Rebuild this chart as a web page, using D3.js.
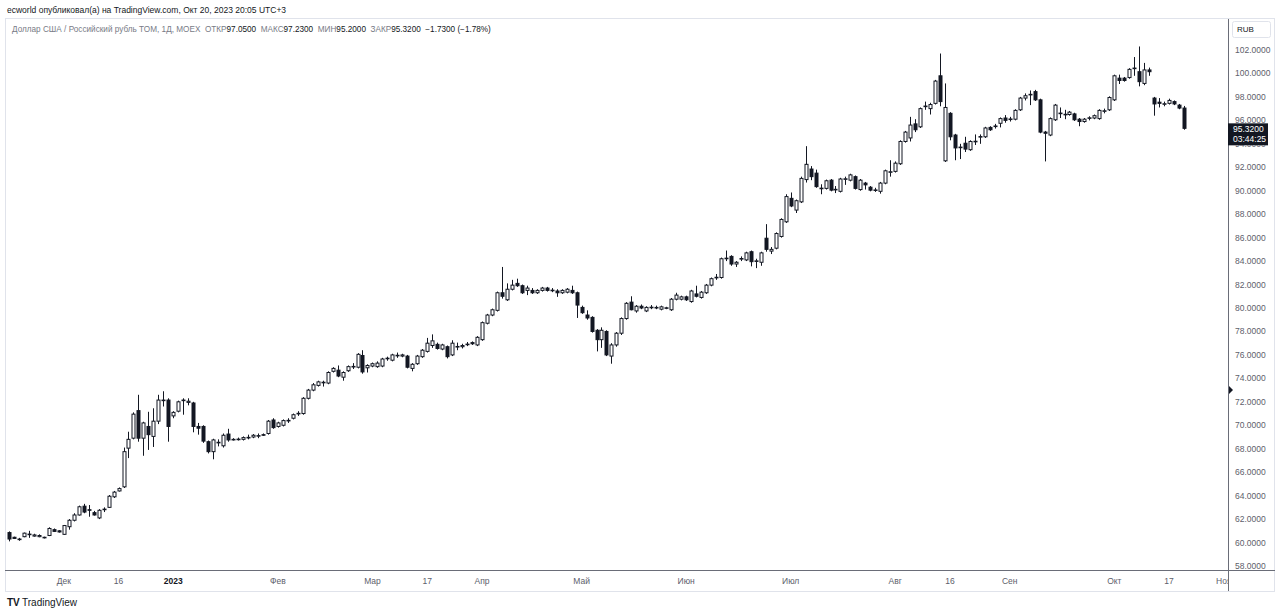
<!DOCTYPE html>
<html><head><meta charset="utf-8">
<script src="https://cdn.jsdelivr.net/npm/d3@7"></script>
<style>
body{margin:0;background:#fff;}
svg{display:block;font-family:"Liberation Sans",Arial,sans-serif;}
</style>
</head><body>
<svg id="c" width="1280" height="615"></svg>
<script>
// ---- DATA (USD/RUB TOM, 1D, MOEX) ----
const openP=[60.85,60.45,60.3,60.5,60.7,60.55,60.5,60.45,60.6,61.1,
61.0,60.7,61.35,61.9,62.35,63.1,62.8,62.55,62.1,62.8,
63.0,63.9,64.4,64.75,68.05,68.9,71.25,68.9,69.9,69.05,
70.35,72.15,72.15,70.8,71.2,72.1,71.95,71.9,69.9,69.9,
68.6,67.75,68.5,68.25,69.25,68.8,68.8,68.8,68.95,69.0,
69.1,69.2,69.3,70.45,69.9,70.0,70.4,70.6,71.0,71.0,
72.3,73.0,73.4,73.65,73.6,74.6,74.7,74.1,74.65,75.0,
74.95,75.95,74.9,75.05,75.0,75.05,75.7,75.55,75.95,75.9,
75.9,74.85,75.25,75.85,76.3,76.8,76.9,76.5,76.7,76.0,
76.7,76.7,76.9,77.05,76.85,77.3,78.7,79.4,79.8,81.3,
80.7,81.6,82.1,81.9,81.5,81.5,81.3,81.5,81.7,81.5,
81.45,81.3,81.35,81.5,81.3,80.05,79.4,79.2,78.1,77.3,
78.0,75.9,76.85,77.85,79.1,80.5,79.75,80.15,79.75,80.05,
80.05,79.9,80.0,79.85,80.75,80.75,80.95,80.55,81.2,80.9,
81.3,81.95,82.6,82.6,84.2,84.4,83.75,84.2,84.1,84.8,
84.0,83.9,85.95,84.85,85.1,86.1,87.35,89.35,88.35,89.05,
90.95,91.85,91.5,90.2,90.2,90.9,90.1,89.95,91.0,90.9,
91.2,90.1,90.65,90.3,90.05,89.95,90.65,91.6,91.65,92.3,
94.2,94.5,95.7,95.45,97.2,97.0,97.45,99.8,92.55,96.6,
94.75,93.7,94.05,93.5,94.2,94.6,94.6,95.4,95.5,95.75,
96.2,96.1,96.1,96.9,97.9,98.2,98.45,97.75,95.0,94.75,
96.05,96.6,96.5,96.5,96.55,96.1,95.9,96.2,96.2,96.15,
96.8,96.9,97.75,99.6,99.6,99.65,100.44,100.15,99.15,100.3,
97.9,97.55,97.4,97.45,97.6,97.3,97.05];
const highP=[60.95,60.5,60.4,60.85,61.0,60.75,60.7,60.5,61.3,61.2,
61.05,61.5,62.0,62.5,63.15,63.3,63.2,62.7,62.85,63.0,
64.05,64.4,64.7,68.1,69.45,71.1,72.6,70.3,71.15,71.45,
72.6,72.9,72.3,71.2,72.1,72.3,72.3,72.0,70.2,70.0,
68.7,68.85,68.8,69.3,69.7,68.9,68.95,69.05,69.2,69.25,
69.3,69.3,70.45,70.6,70.3,70.5,70.6,71.0,71.2,72.4,
73.1,73.6,73.8,73.8,74.6,74.95,75.1,74.6,75.1,75.3,
76.15,76.4,75.2,75.35,75.45,75.75,75.85,76.1,76.2,76.1,
76.0,75.3,76.0,76.5,77.45,77.75,77.05,76.95,76.8,77.25,
77.05,76.95,77.1,77.15,77.6,78.85,79.5,79.95,81.4,83.5,
82.1,82.4,82.5,82.0,81.9,81.7,81.6,81.8,81.8,81.7,
81.6,81.6,81.7,81.9,81.4,80.2,79.8,79.3,78.2,78.35,
78.1,77.0,77.95,79.2,80.5,81.0,80.25,80.3,80.15,80.25,
80.2,80.2,80.1,80.85,81.3,81.05,81.05,81.55,81.9,81.45,
82.05,82.6,82.9,84.3,84.9,84.5,84.0,84.4,84.8,84.9,
84.2,84.8,87.15,85.2,86.45,87.65,89.7,89.85,89.25,91.2,
93.8,92.1,91.8,90.55,90.95,91.0,90.4,91.1,91.2,91.45,
91.3,91.0,90.75,90.4,90.25,90.75,91.8,92.6,92.5,94.3,
95.1,96.3,96.1,97.1,97.6,97.5,99.45,101.7,99.15,96.7,
94.85,94.0,94.6,94.3,94.8,94.8,95.45,95.5,95.7,96.25,
96.45,96.3,96.95,98.0,98.3,98.55,98.6,97.85,95.1,96.25,
97.4,97.1,96.9,96.8,96.65,96.2,96.2,96.35,96.5,96.95,
97.0,98.05,99.9,99.9,99.7,100.45,101.4,102.3,100.9,100.5,
98.0,97.9,97.6,97.85,97.7,97.4,97.23];
const lowP=[60.1,60.3,60.15,60.45,60.4,60.5,60.45,60.35,60.55,60.9,
60.85,60.65,61.1,61.8,62.3,62.5,62.2,62.3,62.0,62.6,
62.95,63.8,64.35,64.65,67.2,68.8,68.6,67.4,67.9,68.15,
70.1,71.6,68.6,70.6,71.1,70.9,71.7,69.4,69.2,68.5,
67.6,67.1,68.2,68.1,68.6,68.7,68.7,68.7,68.8,68.9,
68.9,69.1,69.2,69.7,69.8,69.9,70.2,70.5,70.8,70.9,
72.2,72.9,73.3,73.3,73.5,74.5,74.1,73.8,74.55,74.8,
74.85,74.4,74.5,74.95,74.9,74.95,75.5,75.45,75.75,75.8,
74.85,74.6,75.15,75.75,76.2,76.6,76.45,76.4,75.7,75.9,
76.4,76.55,76.75,76.85,76.75,77.2,78.6,79.3,79.7,80.8,
80.6,81.5,81.8,81.2,81.1,81.2,81.2,81.4,81.4,81.35,
80.95,81.2,81.25,81.2,79.15,79.5,79.0,77.9,76.3,76.6,
75.9,75.25,76.7,77.7,79.0,79.8,79.6,79.9,79.65,79.9,
79.9,79.8,79.9,79.75,80.65,80.65,80.6,80.45,80.9,80.8,
81.2,81.85,82.4,82.5,84.0,83.6,83.5,84.0,84.0,83.55,
83.4,83.6,84.8,84.6,85.0,86.0,87.25,88.6,88.1,88.95,
90.7,90.9,90.25,89.7,90.1,89.95,89.8,89.85,90.5,90.8,
90.1,90.0,90.1,89.95,89.9,89.75,90.55,91.2,91.55,92.2,
94.1,94.2,95.0,95.35,96.9,96.5,97.35,97.2,92.45,94.3,
92.6,92.7,93.3,93.4,93.9,94.0,94.5,95.1,95.3,95.4,
95.8,95.9,96.0,96.8,97.7,97.3,97.65,94.9,92.5,94.65,
95.95,96.2,96.1,96.4,95.95,95.5,95.8,96.0,96.1,96.05,
96.6,96.8,97.65,99.1,99.3,99.55,99.8,98.9,99.0,99.8,
96.4,97.1,97.2,97.35,97.3,96.95,95.2];
const closeP=[60.3,60.35,60.25,60.8,60.72,60.65,60.6,60.4,61.2,60.95,
60.9,61.45,61.9,62.35,63.05,62.6,62.75,62.35,62.75,62.85,
63.95,64.3,64.6,67.75,68.8,70.95,68.9,70.2,69.2,70.35,
72.15,72.1,69.9,71.1,72.0,72.15,72.05,69.9,69.75,68.65,
67.75,68.75,68.55,69.15,68.75,68.78,68.82,68.95,68.97,69.15,
69.12,69.18,70.35,69.8,70.2,70.4,70.42,70.9,71.02,72.3,
73.0,73.45,73.7,73.67,74.5,74.85,74.2,74.5,75.0,75.02,
76.05,74.55,75.1,75.25,75.3,75.65,75.72,76.0,75.97,76.0,
74.95,75.2,75.9,76.4,77.0,77.2,76.55,76.85,75.85,77.0,
76.72,76.8,76.92,76.95,77.5,78.75,79.4,79.85,81.3,81.0,
81.6,81.95,81.9,81.3,81.7,81.3,81.5,81.7,81.5,81.52,
81.3,81.5,81.6,81.3,80.25,79.6,79.15,78.0,77.3,78.1,
76.0,76.85,77.85,79.1,80.4,79.85,80.15,80.0,80.05,80.07,
80.03,80.1,80.02,80.75,81.1,80.95,80.7,81.45,81.0,81.35,
81.95,82.5,82.62,84.2,84.25,83.75,83.9,84.22,84.7,83.95,
84.02,84.7,85.0,85.0,86.35,87.55,89.5,88.7,89.15,91.05,
92.25,91.2,90.35,90.22,90.85,90.05,90.12,91.0,91.02,91.35,
90.2,90.9,90.5,90.05,90.07,90.65,91.7,91.62,92.35,94.2,
95.0,95.6,95.2,97.0,97.22,97.35,99.35,97.6,97.1,94.6,
93.65,93.72,93.55,94.2,94.22,94.62,95.35,95.2,95.52,96.15,
96.0,96.12,96.85,97.9,98.1,98.22,97.75,95.0,94.9,96.15,
97.3,96.62,96.52,96.7,96.05,95.9,96.1,96.22,96.4,96.85,
96.82,97.95,99.8,99.4,99.4,100.35,100.46,99.3,100.3,100.15,
97.4,97.45,97.42,97.7,97.4,97.05,95.32];

const firstDay="2022-11-16";
const lastAxisDay="2023-11-01";
const holidays=["2023-01-02","2023-02-23","2023-03-08","2023-05-01","2023-05-09","2023-06-12"];
const timeTickDates=["2022-12-01","2022-12-16","2023-01-03","2023-02-01","2023-03-01","2023-03-17","2023-04-03","2023-05-02","2023-06-01","2023-07-03","2023-08-01","2023-08-16","2023-09-01","2023-10-02","2023-10-17","2023-11-01"];
const timeTickLabels=["Дек","16","2023","Фев","Мар","17","Апр","Май","Июн","Июл","Авг","16","Сен","Окт","17","Ноя"];
const timeTickBold=["2023"];
const priceTicks=[58,60,62,64,66,68,70,72,74,76,78,80,82,84,86,88,90,92,94,96,98,100,102];
const lastPrice=95.32, countdown="03:44:25", markerPrice=73.0;
const headerLine="ecworld опубликовал(а) на TradingView.com, Окт 20, 2023 20:05 UTC+3";
const legendParts=[["Доллар США / Российский рубль TOM, 1Д, MOEX  ",0],["ОТКР",0],["97.0500",1],["  МАКС",0],["97.2300",1],["  МИН",0],["95.2000",1],["  ЗАКР",0],["95.3200",1],["  −1.7300 (−1.78%)",1]];

// ---- trading calendar ----
const fmt=d3.utcFormat("%Y-%m-%d");
const days=[];
for(let d=new Date(firstDay+"T00:00:00Z"); fmt(d)<=lastAxisDay; d=new Date(d.getTime()+864e5)){
  const wd=d.getUTCDay(); const s=fmt(d);
  if(wd!==0 && wd!==6 && !holidays.includes(s)) days.push(s);
}

// ---- layout ----
const pane={l:5,t:19,r:1229,b:571};
const svg=d3.select("#c");
const ink="#131722", grey="#5d606b";

const x=d3.scaleLinear().domain([0,closeP.length-1]).range([9,1184]);
const y=d3.scaleLinear().domain([58,102]).range([566,50]);

// frame
svg.append("rect").attr("x",5.5).attr("y",18.5).attr("width",1269).attr("height",573)
  .attr("fill","#fff").attr("stroke","#e0e3eb");

// header
svg.append("text").attr("x",7).attr("y",12.5).attr("font-size",8.5).attr("fill",ink).text(headerLine);
const lg=svg.append("text").attr("x",12).attr("y",31.5).attr("font-size",8.2).attr("xml:space","preserve");
legendParts.forEach(p=>lg.append("tspan").attr("fill",p[1]?ink:"#787b86").text(p[0]));

// candles
svg.append("clipPath").attr("id","pc").append("rect")
  .attr("x",pane.l+1).attr("y",pane.t).attr("width",pane.r-pane.l-1).attr("height",pane.b-pane.t);
const g=svg.append("g").attr("clip-path","url(#pc)");
const idx=d3.range(closeP.length);
const cx=i=>Math.round(x(i))+0.5;
g.selectAll("line.w").data(idx).join("line")
  .attr("x1",cx).attr("x2",cx)
  .attr("y1",i=>y(highP[i])).attr("y2",i=>y(lowP[i]))
  .attr("stroke",ink).attr("stroke-width",1);
g.selectAll("rect.b").data(idx).join("rect")
  .attr("x",i=>cx(i)-1.5).attr("width",3)
  .attr("y",i=>Math.min(y(openP[i]),y(closeP[i])))
  .attr("height",i=>Math.max(0.6,Math.abs(y(openP[i])-y(closeP[i]))))
  .attr("fill",i=>closeP[i]>=openP[i]?"#fff":ink)
  .attr("stroke",ink).attr("stroke-width",1);

// axes separators
svg.append("line").attr("x1",5).attr("x2",1275).attr("y1",570.5).attr("y2",570.5).attr("stroke","#6a6d78");
svg.append("line").attr("x1",1228.5).attr("x2",1228.5).attr("y1",19).attr("y2",591).attr("stroke","#6a6d78");

// price axis (labels hidden behind the last-price box are clipped like in the reference)
const ly=y(lastPrice);
const boxTop=ly-5, boxH=22;
svg.append("g").selectAll("text").data(priceTicks.filter(d=>Math.abs(y(d)-(boxTop+boxH/2))>boxH/2+1)).join("text")
  .attr("x",1235).attr("y",d=>y(d)).attr("dy","0.35em")
  .attr("font-size",8.5).attr("fill",grey).text(d=>d3.format(".4f")(d));
// partially covered labels
svg.append("clipPath").attr("id","ac").append("path")
  .attr("d",`M1229,19H1275V${boxTop}H1229Z M1229,${boxTop+boxH}H1275V571H1229Z`);
svg.append("g").attr("clip-path","url(#ac)").selectAll("text")
  .data(priceTicks.filter(d=>Math.abs(y(d)-(boxTop+boxH/2))<=boxH/2+1)).join("text")
  .attr("x",1235).attr("y",d=>y(d)).attr("dy","0.35em")
  .attr("font-size",8.5).attr("fill",grey).text(d=>d3.format(".4f")(d));

// RUB box
svg.append("rect").attr("x",1232.5).attr("y",21.5).attr("width",38).attr("height",16).attr("rx",2)
  .attr("fill","#fff").attr("stroke","#e0e3eb");
svg.append("text").attr("x",1237).attr("y",29.5).attr("dy","0.35em").attr("font-size",8).attr("fill",ink).text("RUB");

// last price box
svg.append("rect").attr("x",1228).attr("y",boxTop).attr("width",40).attr("height",boxH).attr("fill",ink);
svg.append("text").attr("x",1233).attr("y",ly+0.5).attr("dy","0.35em").attr("font-size",8.5).attr("fill","#fff").text(d3.format(".4f")(lastPrice));
svg.append("text").attr("x",1233).attr("y",ly+11).attr("dy","0.35em").attr("font-size",8.5).attr("fill","#fff").text(countdown);

// marker triangle
const my=y(markerPrice);
svg.append("path").attr("d",`M1229,${my-4}L1233,${my}L1229,${my+4}Z`).attr("fill",ink);

// time axis
svg.append("clipPath").attr("id","tc").append("rect").attr("x",6).attr("y",571).attr("width",1222).attr("height",20);
svg.append("g").attr("clip-path","url(#tc)").selectAll("text").data(timeTickDates).join("text")
  .attr("x",(d)=>x(days.indexOf(d))).attr("y",581).attr("dy","0.35em")
  .attr("text-anchor","middle").attr("font-size",8.5)
  .attr("font-weight",(d,i)=>timeTickBold.includes(timeTickLabels[i])?"bold":"normal")
  .attr("fill",(d,i)=>timeTickBold.includes(timeTickLabels[i])?ink:grey)
  .text((d,i)=>timeTickLabels[i]);

// logo
svg.append("text").attr("x",7).attr("y",606).attr("font-size",10).attr("font-weight","bold").attr("fill",ink).text("TV");
svg.append("text").attr("x",22).attr("y",606).attr("font-size",10).attr("fill",ink).text("TradingView");
</script>
</body></html>
